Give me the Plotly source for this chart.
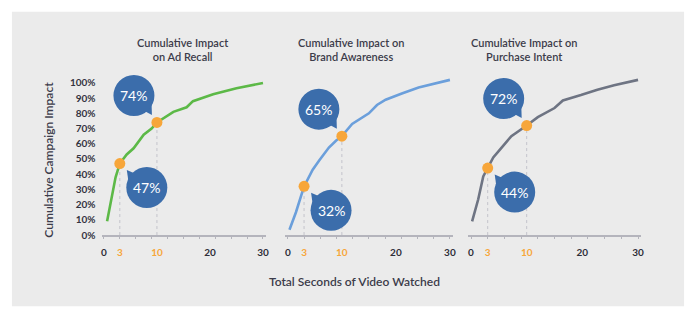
import numpy as np
import plotly.graph_objects as go

# ---- data -------------------------------------------------------------
titles = [
    ["Cumulative Impact", "on Ad Recall"],
    ["Cumulative Impact on", "Brand Awareness"],
    ["Cumulative Impact on", "Purchase Intent"],
]

recall_x = [0.6, 2.2, 3, 4.3, 5.6, 7.5, 9, 10, 13.1, 15.6, 16.8, 20.6, 25, 30]
recall_y = [9, 38, 47, 53, 57, 66, 70, 74, 81, 84, 88, 92.5, 96.5, 100]

awareness_x = [0.3, 1.5, 3, 4.6, 5.8, 7.6, 8.9, 10, 11.9, 15, 16.5, 18.1, 21.1, 24.2, 30]
awareness_y = [3.5, 15, 32, 43, 49, 57.5, 62, 65, 73, 80, 85.5, 89, 93, 97, 102]

intent_x = [0.2, 1.3, 2.2, 3, 4, 5.5, 7.25, 10, 12, 15, 16.5, 19.75, 22.7, 25.7, 30]
intent_y = [9, 23.5, 38.5, 44, 51, 57.5, 65, 72, 77.5, 83.5, 88.5, 92, 95.5, 98.5, 102]

# highlighted moments (seconds) and their stated impact
marker_seconds = [3, 10]
recall_marks = [47, 74]
awareness_marks = [32, 65]
intent_marks = [44, 72]

x_tick_vals = [0, 3, 10, 20, 30]
x_tick_text = ["0", "3", "10", "20", "30"]
highlight_ticks = ["3", "10"]
minor_tick_vals = list(range(0, 31, 3))
y_tick_vals = list(range(0, 101, 10))

y_title = "Cumulative Campaign Impact"
x_title = "Total Seconds of Video Watched"

series = [
    (recall_x, recall_y, recall_marks, "#5cb947"),
    (awareness_x, awareness_y, awareness_marks, "#6b9fdb"),
    (intent_x, intent_y, intent_marks, "#6e7483"),
]

# ---- styling / geometry -----------------------------------------------
W, H = 700, 323
FONT = "Lato"
TEXT = "#3c3c4a"
ORANGE = "#f7a63a"
BUBBLE = "#3b6dab"
AXIS = "#b4b4bc"

x0_px = [103.5, 288.5, 472.7]
x30_px = [263.5, 451.5, 640.7]
x_range = [-0.45, 30.6]
y0_px, y100_px = 239.5, 84.5
y_range = [0, 106]
px_per_pct = (y0_px - y100_px) / 100.0
y_top_px = y0_px - y_range[1] * px_per_pct
y_domain = [(H - y0_px) / H, (H - y_top_px) / H]

title_centers = [183, 352, 526]

fig = go.Figure()
shapes = []
annotations = []

# grey card behind the charts
shapes.append(dict(type="rect", xref="paper", yref="paper",
                   x0=11 / W, x1=687 / W, y0=(H - 312) / H, y1=(H - 12) / H,
                   fillcolor="#ebebeb", line=dict(width=0), layer="below"))

R = 20.5
# bubble centre / pointer tip offsets (pixels, y up) relative to the dot
bubble_geom = [
    dict(center=(27, -24), tip=(7, -6.5)),     # lower-right bubble (3 s)
    dict(center=(-23, 27), tip=(-5, 7.5)),     # upper-left bubble (10 s)
]

for i, (xs, ys, marks, color) in enumerate(series):
    n = "" if i == 0 else str(i + 1)
    xa, ya = "x" + n, "y" + n
    px_per_s = (x30_px[i] - x0_px[i]) / 30.0
    dom = [(x0_px[i] + x_range[0] * px_per_s) / W,
           (x0_px[i] + x_range[1] * px_per_s) / W]

    # dotted drop lines
    for sx, val in zip(marker_seconds, marks):
        fig.add_trace(go.Scatter(x=[sx, sx], y=[0, val], mode="lines",
                                 line=dict(color="#c3c3cb", width=1, dash="dot"),
                                 xaxis=xa, yaxis=ya, hoverinfo="skip",
                                 showlegend=False))
    # cumulative curve
    fig.add_trace(go.Scatter(x=xs, y=ys, mode="lines",
                             line=dict(color=color, width=2.6),
                             xaxis=xa, yaxis=ya, showlegend=False))
    # highlighted dots
    fig.add_trace(go.Scatter(x=marker_seconds, y=marks, mode="markers",
                             marker=dict(color=ORANGE, size=11),
                             xaxis=xa, yaxis=ya, showlegend=False))

    # speech bubbles
    for sx, val, g in zip(marker_seconds, marks, bubble_geom):
        cx, cy = g["center"]
        tx, ty = g["tip"]
        theta = np.degrees(np.arctan2(ty - cy, tx - cx))
        b1 = np.radians(theta + 21)
        b2 = np.radians(theta - 7)
        p1 = (cx + R * 0.96 * np.cos(b1), cy + R * 0.96 * np.sin(b1))
        p2 = (cx + R * 0.96 * np.cos(b2), cy + R * 0.96 * np.sin(b2))
        path = (f"M {p1[0]:.2f},{p1[1]:.2f} L {tx:.2f},{ty:.2f} "
                f"L {p2[0]:.2f},{p2[1]:.2f} L {cx:.2f},{cy:.2f} Z")
        shapes.append(dict(type="path", xref=xa, yref=ya,
                           xsizemode="pixel", ysizemode="pixel",
                           xanchor=sx, yanchor=val, path=path,
                           fillcolor=BUBBLE, line=dict(width=0), layer="above"))
        shapes.append(dict(type="circle", xref=xa, yref=ya,
                           xsizemode="pixel", ysizemode="pixel",
                           xanchor=sx, yanchor=val,
                           x0=cx - R, x1=cx + R, y0=cy - R, y1=cy + R,
                           fillcolor=BUBBLE, line=dict(width=0), layer="above"))
        annotations.append(dict(x=sx, y=val, xref=xa, yref=ya,
                                xshift=cx, yshift=cy, showarrow=False,
                                text=f"{val}%",
                                font=dict(family=FONT, size=14, color="white")))

    ticktext = [f"<span style='color:{ORANGE}'>{t}</span>" if t in highlight_ticks else t
                for t in x_tick_text]
    fig.update_layout(**{
        "xaxis" + n: dict(domain=dom, range=x_range, anchor=ya,
                          tickvals=x_tick_vals, ticktext=ticktext, ticks="",
                          showgrid=False, zeroline=False, showline=True,
                          linecolor=AXIS, linewidth=1.6, ticklabelstandoff=7,
                          tickfont=dict(family=FONT, size=10, color="#2e2e38",
                                        weight="bold")),
        "yaxis" + n: dict(domain=y_domain, range=y_range, anchor=xa,
                          showgrid=False, zeroline=False, showline=False,
                          tickvals=y_tick_vals,
                          ticktext=[f"{v}%" for v in y_tick_vals],
                          showticklabels=(i == 0), ticks="",
                          ticklabelstandoff=5,
                          tickfont=dict(family=FONT, size=10, color="#33333f",
                                        weight="bold")),
        # overlay axis that only carries the small tick marks every 3 s
        "xaxis" + str(i + 4): dict(domain=dom, range=x_range, anchor=ya,
                                   overlaying=xa, tickvals=minor_tick_vals,
                                   ticks="outside", ticklen=3, tickwidth=1,
                                   tickcolor=AXIS, showticklabels=False,
                                   showgrid=False, zeroline=False,
                                   showline=False),
    })
    # a dummy invisible trace so the overlay axis is drawn
    fig.add_trace(go.Scatter(x=[0], y=[0], mode="markers", opacity=0,
                             xaxis="x" + str(i + 4), yaxis=ya,
                             hoverinfo="skip", showlegend=False))

    annotations.append(dict(x=title_centers[i] / W, y=(H - 50) / H,
                            xref="paper", yref="paper", showarrow=False,
                            text="<br>".join(titles[i]),
                            xanchor="center", yanchor="middle", align="center",
                            font=dict(family=FONT, size=11, color=TEXT,
                                      weight=600)))

annotations.append(dict(x=48 / W, y=(H - 163) / H, xref="paper", yref="paper",
                        showarrow=False, text=y_title, textangle=-90,
                        xanchor="center", yanchor="middle",
                        font=dict(family=FONT, size=12, color=TEXT, weight=600)))
annotations.append(dict(x=356 / W, y=(H - 287) / H, xref="paper", yref="paper",
                        showarrow=False, text=x_title,
                        xanchor="center", yanchor="middle",
                        font=dict(family=FONT, size=12, color=TEXT, weight=600)))

fig.update_layout(width=W, height=H, margin=dict(l=0, r=0, t=0, b=0),
                  paper_bgcolor="white", plot_bgcolor="rgba(0,0,0,0)",
                  shapes=shapes, annotations=annotations, showlegend=False)

fig.write_html("out.html", config={"displayModeBar": False})
